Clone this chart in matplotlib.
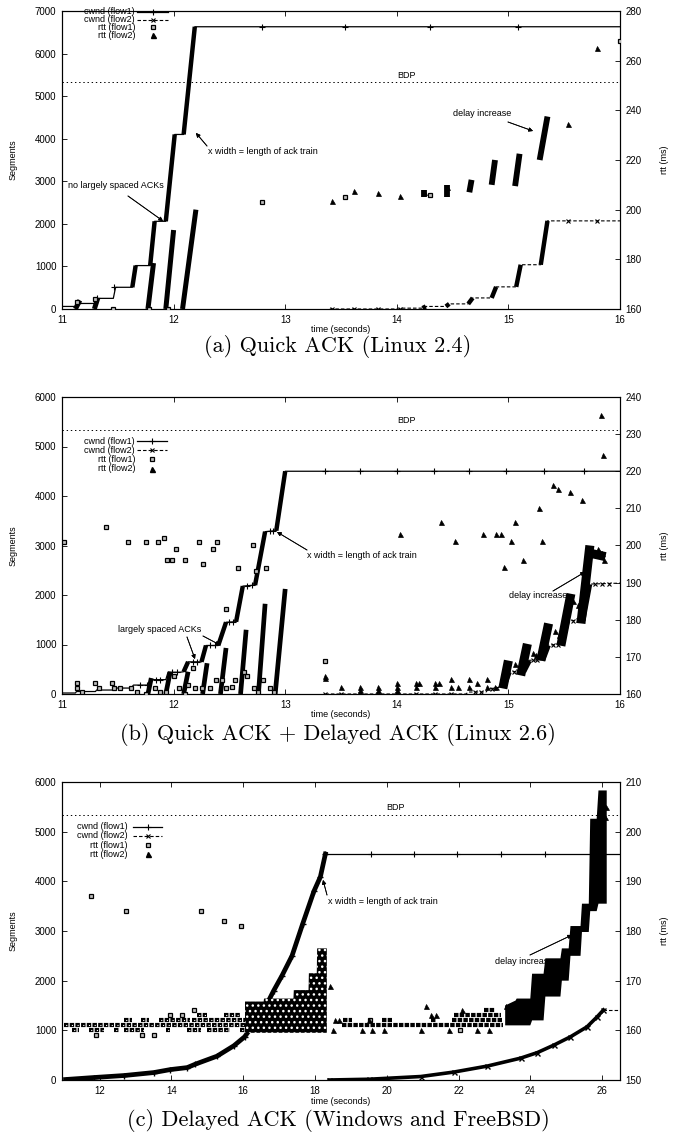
import matplotlib.pyplot as plt
from matplotlib.lines import Line2D

plt.rcParams['font.family'] = ['Liberation Sans', 'DejaVu Sans']
plt.rcParams['lines.scale_dashes'] = False
plt.rcParams['hatch.linewidth'] = 1.0

W, H = 677, 1136
BDP = 5333

# ---------------- (a) Quick ACK (Linux 2.4) ----------------
a_cw1_t = [11.00, 11.13, 11.14, 11.30, 11.31, 11.46, 11.48, 11.63, 11.66, 11.79, 11.83, 11.93, 12.01, 12.09, 12.19, 16.00]
a_cw1_y = [60, 60, 130, 130, 250, 250, 510, 510, 1020, 1020, 2060, 2060, 4100, 4100, 6630, 6630]
a_cw1_trains = [(11.63, 11.66, 510, 1020), (11.79, 11.83, 1020, 2060), (11.93, 12.01, 2060, 4100), (12.09, 12.19, 4100, 6630)]
a_cw1_mt = [11.14, 11.31, 11.47, 12.79, 13.54, 14.30, 15.09]
a_cw1_my = [130, 250, 510, 6630, 6630, 6630, 6630]

a_cw2_t = [13.40, 14.03, 14.05, 14.23, 14.26, 14.44, 14.47, 14.64, 14.68, 14.85, 14.89, 15.07, 15.11, 15.29, 15.35, 16.00]
a_cw2_y = [0, 0, 20, 20, 60, 60, 120, 120, 260, 260, 520, 520, 1040, 1040, 2070, 2070]
a_cw2_trains = [(14.23, 14.26, 20, 60), (14.44, 14.47, 60, 120), (14.64, 14.68, 120, 260), (14.85, 14.89, 260, 520),
                (15.07, 15.11, 520, 1040), (15.29, 15.35, 1040, 2070)]
a_cw2_mt = [13.42, 13.62, 13.83, 14.03, 15.53, 15.79]
a_cw2_my = [0, 0, 0, 0, 2070, 2070]

a_rtt1_t = [11.13, 11.30, 11.46, 11.78, 11.95, 12.79, 13.54, 14.30, 16.00]
a_rtt1_v = [163, 164, 160, 160, 160, 203, 205, 206, 268]
a_rtt1_trains = [(11.12, 11.16, 160, 163.5), (11.29, 11.32, 160, 164.3), (11.77, 11.82, 160, 178.5),
                 (11.93, 12.00, 160, 191.8), (12.08, 12.20, 160, 200)]

a_rtt2_t = [13.42, 13.62, 13.83, 14.03, 14.24, 14.45, 15.53, 15.79]
a_rtt2_v = [203.3, 207.7, 206.7, 205.5, 207, 209, 234.5, 265]
a_rtt2_trains = [(14.24, 14.24, 205, 208), (14.45, 14.45, 205, 210), (14.65, 14.67, 207, 212), (14.85, 14.88, 210, 220),
                 (15.06, 15.10, 209.5, 222.5), (15.28, 15.35, 220, 237.5)]

# ---------------- (b) Quick ACK + Delayed ACK (Linux 2.6) ----------------
b_cw1_t = [11.00, 11.12, 11.13, 11.30, 11.31, 11.47, 11.48, 11.62, 11.64, 11.77, 11.80, 11.93, 11.95, 12.06, 12.09,
           12.13, 12.25, 12.29, 12.40, 12.47, 12.56, 12.62, 12.73, 12.82, 12.92, 13.00, 16.00]
b_cw1_y = [20, 20, 50, 50, 80, 80, 120, 120, 180, 180, 290, 290, 440, 440, 450,
           650, 650, 980, 980, 1450, 1460, 2180, 2200, 3280, 3300, 4500, 4500]
b_cw1_trains = [(12.09, 12.13, 450, 650), (12.25, 12.29, 650, 980), (12.40, 12.47, 980, 1450),
                (12.56, 12.62, 1460, 2180), (12.73, 12.82, 2200, 3280), (12.92, 13.00, 3300, 4500)]
b_cw1_mt = [11.70, 11.76, 11.84, 11.88, 11.99, 12.03, 12.17, 12.21, 12.33, 12.37, 12.50, 12.53, 12.66, 12.70,
            12.86, 12.89, 13.36, 13.67, 14.00, 14.33, 14.65, 14.98, 15.32, 15.68]
b_cw1_my = [180, 180, 290, 290, 440, 440, 650, 650, 980, 980, 1450, 1455, 2185, 2195,
            3285, 3295, 4500, 4500, 4500, 4500, 4500, 4500, 4500, 4500]

b_cw2_t = [13.36, 14.62, 14.64, 14.80, 14.82, 14.95, 15.00, 15.13, 15.18, 15.30, 15.35, 15.47, 15.52, 15.66, 15.72, 16.00]
b_cw2_y = [0, 0, 40, 40, 100, 150, 450, 460, 680, 690, 990, 1000, 1480, 1490, 2220, 2240]
b_cw2_trains = [(14.95, 15.00, 150, 450), (15.13, 15.18, 460, 680), (15.30, 15.35, 690, 990),
                (15.47, 15.52, 1000, 1480), (15.66, 15.72, 1490, 2220)]
b_cw2_mt = [13.36, 13.50, 13.67, 13.83, 14.00, 14.17, 14.34, 14.49, 14.70, 14.75, 14.85, 14.90, 15.05, 15.09,
            15.22, 15.26, 15.40, 15.44, 15.58, 15.62, 15.78, 15.84, 15.90]
b_cw2_my = [0, 0, 0, 0, 0, 0, 0, 0, 40, 40, 110, 130, 452, 456,
            683, 687, 994, 998, 1484, 1488, 2224, 2228, 2230]

b_rtt1_hi_t = [11.02, 11.39, 11.59, 11.75, 11.86, 11.91, 11.94, 11.99, 12.02, 12.10, 12.23, 12.26, 12.35, 12.39,
               12.47, 12.58, 12.71, 12.74, 12.83, 13.36]
b_rtt1_hi_v = [201, 205, 201, 201, 201, 202, 196, 196, 199, 196, 201, 195, 199, 201,
               183, 194, 200, 193, 194, 169]
b_rtt1_lo_t = [11.13, 11.13, 11.18, 11.30, 11.33, 11.45, 11.47, 11.52, 11.62, 11.67, 11.75, 11.83, 11.88, 11.93,
               12.00, 12.05, 12.10, 12.13, 12.17, 12.19, 12.25, 12.33, 12.38, 12.43, 12.47, 12.52, 12.55, 12.63,
               12.66, 12.72, 12.76, 12.80, 12.86, 12.90]
b_rtt1_lo_v = [163, 161.5, 160.5, 163, 161.5, 163, 161.5, 161.5, 161.5, 160.5, 160, 161.5, 160.5, 160.5,
               164.8, 161.5, 160, 162.5, 167, 161.5, 161.5, 161.5, 163.8, 163.8, 161.5, 162, 163.8, 165.8,
               164.8, 161.5, 160.5, 163.8, 161.5, 160.5]
b_rtt1_trains = [(11.77, 11.80, 160, 164.3), (11.93, 11.97, 160, 166), (12.09, 12.13, 160, 166), (12.26, 12.30, 160, 168.3),
                 (12.42, 12.47, 160, 172.4), (12.60, 12.65, 160, 177.3), (12.76, 12.82, 160, 184.3), (12.91, 13.00, 160, 188.3)]

b_rtt2_hi_t = [14.03, 14.40, 14.52, 14.77, 14.89, 14.93, 14.96, 15.02, 15.06, 15.13, 15.27, 15.30, 15.40, 15.44,
               15.55, 15.66, 15.83, 15.85]
b_rtt2_hi_v = [203.2, 206.2, 201.2, 203.2, 203.2, 203.2, 194.3, 201.2, 206.2, 196.1, 210.2, 201.2, 216.2, 215.2,
               214.3, 212.2, 235.2, 224.3]
b_rtt2_lo_t = [13.36, 13.36, 13.50, 13.67, 13.67, 13.83, 13.83, 14.00, 14.00, 14.00, 14.17, 14.20, 14.17, 14.34,
               14.38, 14.34, 14.49, 14.49, 14.55, 14.65, 14.65, 14.72, 14.81, 14.81, 14.88, 15.06, 15.22, 15.25,
               15.42, 15.45, 15.58, 15.62, 15.80, 15.84, 15.86]
b_rtt2_lo_v = [164.8, 164.2, 162, 162, 161, 162, 161, 163, 162, 161, 163, 163, 162, 163,
               163, 162, 164, 162, 162, 164, 162, 163, 164, 162, 162, 168, 171, 170.5,
               177, 176, 185, 184, 199, 198, 196]
b_rtt2_trains = [(14.95, 15.00, 161.5, 169), (15.11, 15.17, 165, 173.5), (15.29, 15.36, 169, 179),
                 (15.47, 15.56, 173, 187), (15.65, 15.73, 179, 200), (15.72, 15.87, 198, 197)]

# ---------------- (c) Delayed ACK (Windows and FreeBSD) ----------------
c_cw1_t = [11.05, 11.84, 12.68, 13.51, 13.97, 14.44, 14.67, 15.27, 15.74, 16.04, 16.29, 16.57, 16.85, 17.08,
           17.36, 17.66, 17.97, 18.15, 18.29]
c_cw1_y = [10, 50, 90, 150, 210, 250, 320, 480, 690, 870, 1120, 1400, 1800, 2100,
           2500, 3150, 3800, 4090, 4550]
c_cw1_flat_t = [18.29, 26.50]
c_cw1_flat_y = [4555, 4555]
c_cw1_mt = [19.55, 20.76, 21.97, 23.19, 24.42]
c_cw1_my = [4555, 4555, 4555, 4555, 4555]

c_cw2_t = [18.40, 19.50, 20.95, 21.87, 22.80, 23.73, 24.19, 24.65, 25.12, 25.58, 25.86, 26.04]
c_cw2_y = [0, 15, 70, 160, 280, 440, 550, 700, 870, 1070, 1270, 1410]
c_cw2_flat_t = [26.04, 26.50]
c_cw2_flat_y = [1410, 1410]

# rows of rtt samples (level in ms, start, end)
c_rtt1_rows = [(161, 11.00, 16.05), (160, 11.24, 11.42), (160, 11.70, 12.12), (160, 12.40, 12.54), (160, 12.68, 13.23),
               (160, 13.84, 13.97), (160, 14.44, 14.81), (160, 14.99, 15.64), (160, 15.92, 16.05), (162, 12.68, 12.91),
               (162, 13.14, 13.37), (162, 13.65, 14.53), (162, 14.58, 16.05), (163, 14.72, 14.99), (163, 15.46, 15.92)]
c_rtt1_t = [11.89, 13.19, 13.51, 13.97, 14.30, 14.62, 11.75, 12.72, 14.81, 15.46, 15.94, 19.54, 22.05]
c_rtt1_v = [159, 159, 159, 163, 163, 164, 187, 184, 184, 182, 181, 162, 160]
c_rtt1_blk_t = [16.05, 16.57, 16.58, 17.40, 17.41, 17.82, 17.83, 18.05, 18.06, 18.33]
c_rtt1_blk_lo = [159.5, 159.5, 159.5, 159.5, 159.5, 159.5, 159.5, 159.5, 159.5, 159.5]
c_rtt1_blk_hi = [165.8, 165.8, 166.4, 166.4, 168.1, 168.1, 171.5, 171.5, 176.5, 176.5]

c_rtt2_rows = [(161, 18.75, 23.25), (162, 18.77, 19.04), (162, 19.88, 20.16), (162, 21.22, 21.36), (162, 21.83, 23.22),
               (163, 21.87, 23.17), (164, 22.71, 23.03)]
c_rtt2_t = [18.41, 18.50, 18.56, 18.67, 19.32, 19.51, 19.60, 19.93, 20.95, 21.08, 21.22, 21.36, 21.73, 22.10, 22.52,
            22.85, 23.31, 26.08, 26.10]
c_rtt2_v = [169, 160, 162, 162, 160, 162, 160, 160, 160, 165, 163, 163, 160, 164, 160,
            160, 165, 203, 205]
c_rtt2_blk_t = [23.30, 23.59, 23.62, 24.00, 24.05, 24.37, 24.42, 24.84, 24.88, 25.07, 25.12, 25.40, 25.44, 25.63,
                25.67, 25.85, 25.90, 26.13]
c_rtt2_blk_lo = [161, 161, 161, 161, 162, 162, 166.8, 166.8, 170, 170, 175, 175, 179.8, 179.8, 184, 184, 185.5, 185.5]
c_rtt2_blk_hi = [165, 166, 166.4, 166.4, 171.4, 171.4, 174.5, 174.5, 176.5, 176.5, 181, 181, 185.5, 185.5,
                 202.6, 202.6, 208.3, 208.3]

fig = plt.figure(figsize=(W / 100, H / 100), dpi=100)


def fp(x, y):
    # figure pixel (from top-left) -> figure fraction
    return (x / W, 1 - y / H)


def setup(top, bottom, xlim, xticks, ylim, yticks, y2lim, y2ticks, xlab_off):
    ax = fig.add_axes([62 / W, 1 - bottom / H, 558 / W, (bottom - top) / H])
    ax.set_xlim(xlim)
    ax.set_ylim(ylim)
    ax.set_xticks(xticks)
    ax.set_yticks(yticks)
    ax.tick_params(direction='in', length=3.5, width=0.6, labelsize=7, pad=4,
                   top=True, right=True)
    for s in ax.spines.values():
        s.set_linewidth(0.8)
    ax.set_ylabel('Segments', fontsize=6.5)
    ax.yaxis.set_label_coords(-0.079, 0.5)
    ax.set_xlabel('time (seconds)', fontsize=6.5)
    ax.xaxis.set_label_coords(0.5, xlab_off)
    ax2 = ax.twinx()
    ax2.set_ylim(y2lim)
    ax2.set_yticks(y2ticks)
    ax2.tick_params(direction='in', length=3.5, width=0.6, labelsize=7, pad=4)
    ax2.set_ylabel('rtt (ms)', fontsize=6.5)
    ax2.yaxis.set_label_coords(1.072, 0.5)
    ax.axhline(BDP, color='black', lw=0.7, ls=(0, (1, 2)))
    return ax, ax2


def trains(ax, segs, lw=3.0):
    for t0, t1, v0, v1 in segs:
        ax.plot([t0, t1], [v0, v1], color='black', lw=lw, solid_capstyle='butt', zorder=3)


def rows(ax, rr, square):
    for lvl, t0, t1 in rr:
        ax.plot([t0, t1], [lvl, lvl], color='black', lw=3.0, dashes=(3.2, 0.9), zorder=3)
        if square:
            ax.plot([t0, t1], [lvl, lvl], color='white', lw=0.8, ls=(2.9, (0.8, 3.3)), zorder=3)


def cw1(ax, t, y, mt, my):
    ax.plot(t, y, color='black', lw=0.9, zorder=2)
    ax.plot(mt, my, ls='none', marker='+', ms=4, mew=0.8, color='black', zorder=2)


def cw2(ax, t, y, mt, my):
    ax.plot(t, y, color='black', lw=0.8, ls=(0, (2.5, 1.5)), zorder=2)
    ax.plot(mt, my, ls='none', marker='x', ms=3.2, mew=0.8, color='black', zorder=2)


def sq(ax, t, v):
    ax.plot(t, v, ls='none', marker='s', ms=3.4, mew=0.9, mfc='#bdbdbd', mec='black', zorder=4)


def tri(ax, t, v):
    ax.plot(t, v, ls='none', marker='^', ms=3.6, mew=0.5, mfc='black', mec='black', zorder=4)


def legend(xr, x0, x1, ys):
    labels = ['cwnd (flow1)', 'cwnd (flow2)', 'rtt (flow1)', 'rtt (flow2)']
    for lab, y in zip(labels, ys):
        fig.text(*fp(xr, y), lab, ha='right', va='center', fontsize=6.5)
    xm = (x0 + x1) / 2
    fx0, fy = fp(x0, ys[0])
    fx1, _ = fp(x1, ys[0])
    fxm, _ = fp(xm, ys[0])
    fig.add_artist(Line2D([fx0, fx1], [fy, fy], color='black', lw=0.9, transform=fig.transFigure))
    fig.add_artist(Line2D([fxm], [fy], marker='+', ms=4, mew=0.8, color='black', transform=fig.transFigure))
    _, fy = fp(0, ys[1])
    fig.add_artist(Line2D([fx0, fx1], [fy, fy], color='black', lw=0.8, ls=(0, (2.5, 1.5)), transform=fig.transFigure))
    fig.add_artist(Line2D([fxm], [fy], marker='x', ms=3.2, mew=0.8, color='black', transform=fig.transFigure))
    _, fy = fp(0, ys[2])
    fig.add_artist(Line2D([fxm], [fy], marker='s', ms=3.4, mew=0.9, mfc='#bdbdbd', mec='black', transform=fig.transFigure))
    _, fy = fp(0, ys[3])
    fig.add_artist(Line2D([fxm], [fy], marker='^', ms=3.6, color='black', transform=fig.transFigure))


def note(text, xt, yt, tail=None, head=None, ha='left'):
    fig.text(*fp(xt, yt), text, ha=ha, va='center', fontsize=6.5)
    if tail is not None:
        fig.add_artist(plt.annotate('', xy=fp(*head), xytext=fp(*tail), xycoords='figure fraction',
                                    arrowprops=dict(arrowstyle='-|>', lw=0.6, color='black',
                                                    mutation_scale=6, shrinkA=0, shrinkB=0)))


def caption(text, y):
    fig.text(*fp(338, y), text, ha='center', va='center', fontsize=16, family='cmr10')


# ---- panel (a)
ax, ax2 = setup(11, 309, (11, 16), range(11, 17), (0, 7000), range(0, 7001, 1000),
                (160, 280), range(160, 281, 20), -0.055)
cw1(ax, a_cw1_t, a_cw1_y, a_cw1_mt, a_cw1_my)
trains(ax, a_cw1_trains, 3.2)
cw2(ax, a_cw2_t, a_cw2_y, a_cw2_mt, a_cw2_my)
trains(ax, a_cw2_trains, 3.2)
sq(ax2, a_rtt1_t, a_rtt1_v)
trains(ax2, a_rtt1_trains, 3.6)
tri(ax2, a_rtt2_t, a_rtt2_v)
trains(ax2, a_rtt2_trains, 4.2)
legend(135, 137, 168, [12, 19.7, 27.3, 35])
note('no largely spaced ACKs', 68, 185, (128, 196), (163, 221))
note('x width = length of ack train', 208, 152, (207, 146), (196, 133))
note('BDP', 407, 76, ha='center')
note('delay increase', 453, 114, (508, 122), (533, 131))
caption('(a) Quick ACK (Linux 2.4)', 347)

# ---- panel (b)
ax, ax2 = setup(397, 694, (11, 16), range(11, 17), (0, 6000), range(0, 6001, 1000),
                (160, 240), range(160, 241, 10), -0.055)
cw1(ax, b_cw1_t, b_cw1_y, b_cw1_mt, b_cw1_my)
trains(ax, b_cw1_trains, 3.2)
cw2(ax, b_cw2_t, b_cw2_y, b_cw2_mt, b_cw2_my)
trains(ax, b_cw2_trains, 5.0)
sq(ax2, b_rtt1_hi_t, b_rtt1_hi_v)
sq(ax2, b_rtt1_lo_t, b_rtt1_lo_v)
trains(ax2, b_rtt1_trains, 3.4)
tri(ax2, b_rtt2_hi_t, b_rtt2_hi_v)
tri(ax2, b_rtt2_lo_t, b_rtt2_lo_v)
trains(ax2, b_rtt2_trains, 6.5)
legend(135, 137, 167, [441, 450.3, 459.5, 468.7])
note('largely spaced ACKs', 118, 629)
note('', 0, 0, (187, 637), (195, 659))
note('', 0, 0, (203, 636), (220, 645))
note('x width = length of ack train', 307, 556, (307, 550), (277, 532))
note('delay increase', 509, 596, (553, 591), (585, 572))
note('BDP', 407, 420, ha='center')
caption('(b) Quick ACK + Delayed ACK (Linux 2.6)', 734)

# ---- panel (c)
ax, ax2 = setup(782, 1080, (10.95, 26.5), range(12, 27, 2), (0, 6000), range(0, 6001, 1000),
                (150, 210), range(150, 211, 10), -0.058)
ax.plot(c_cw1_t, c_cw1_y, color='black', lw=3.4, zorder=2)
ax.plot(c_cw1_t, c_cw1_y, ls='none', marker='+', ms=5, mew=1.0, color='black', zorder=2)
cw1(ax, c_cw1_flat_t, c_cw1_flat_y, c_cw1_mt, c_cw1_my)
ax.plot(c_cw2_t, c_cw2_y, color='black', lw=2.6, zorder=2)
ax.plot(c_cw2_t, c_cw2_y, ls='none', marker='x', ms=3.6, mew=1.0, color='black', zorder=2)
ax.plot(c_cw2_flat_t, c_cw2_flat_y, color='black', lw=0.8, ls=(0, (2.5, 1.5)), zorder=2)
rows(ax2, c_rtt1_rows, True)
ax2.fill_between(c_rtt1_blk_t, c_rtt1_blk_lo, c_rtt1_blk_hi, facecolor='black', edgecolor='white',
                 hatch='...', lw=0, zorder=3)
sq(ax2, c_rtt1_t, c_rtt1_v)
rows(ax2, c_rtt2_rows, False)
ax2.fill_between(c_rtt2_blk_t, c_rtt2_blk_lo, c_rtt2_blk_hi, facecolor='black', lw=0, zorder=3)
tri(ax2, c_rtt2_t, c_rtt2_v)
legend(128, 133, 162, [826.7, 836, 845, 854.3])
note('x width = length of ack train', 328, 901, (327, 895), (323, 880))
note('delay increase', 495, 961, (530, 955), (572, 935))
note('BDP', 396, 807, ha='center')
caption('(c) Delayed ACK (Windows and FreeBSD)', 1120)

fig.savefig('out.png', dpi=100)
